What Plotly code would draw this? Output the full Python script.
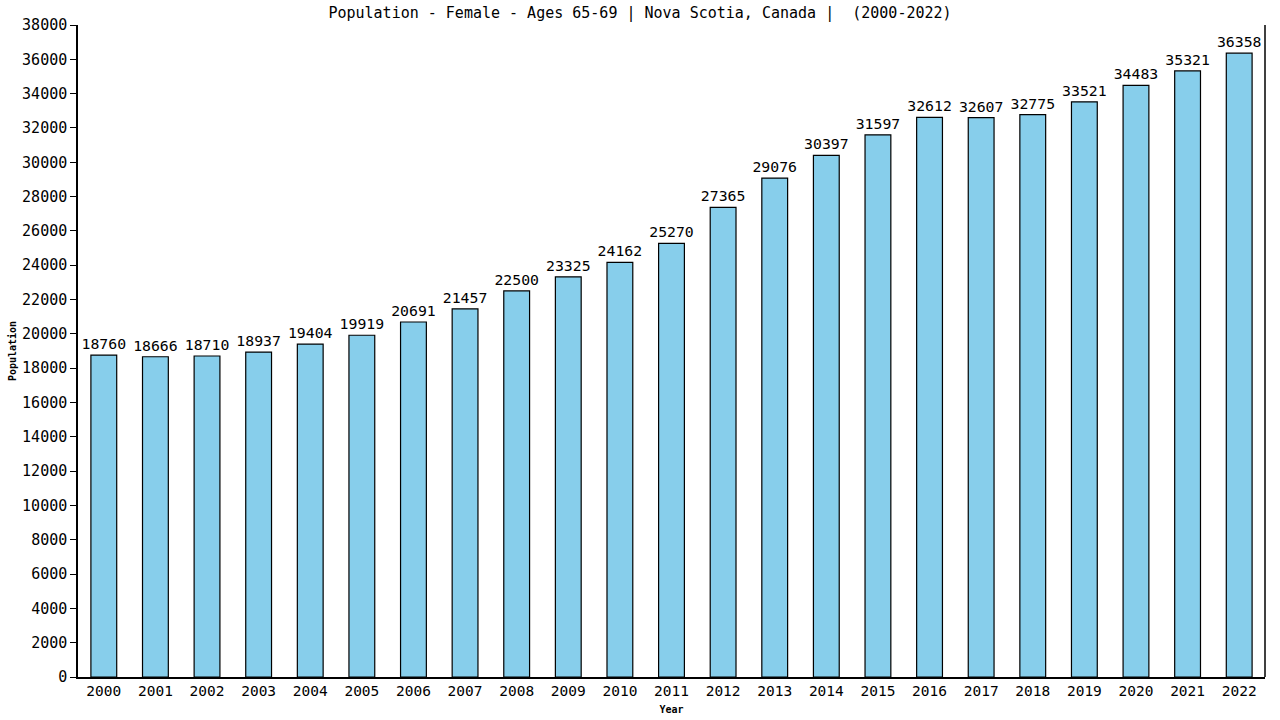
import plotly.graph_objects as go

years = [str(y) for y in range(2000, 2023)]
population = [18760, 18666, 18710, 18937, 19404, 19919, 20691, 21457, 22500, 23325,
              24162, 25270, 27365, 29076, 30397, 31597, 32612, 32607, 32775, 33521,
              34483, 35321, 36358]
y_ticks = list(range(0, 38001, 2000))

mono = "DejaVu Sans Mono"

fig = go.Figure()
fig.add_trace(
    go.Bar(
        x=years,
        y=population,
        width=0.5,
        marker=dict(color="#87ceeb", line=dict(color="black", width=1.2)),
        text=population,
        texttemplate="%{text}",
        textposition="outside",
        textfont=dict(family=mono, size=14.8, color="black"),
        cliponaxis=False,
    )
)

fig.update_layout(
    title=dict(
        text="Population - Female - Ages 65-69 | Nova Scotia, Canada |  (2000-2022)",
        x=0.5, xanchor="center", yref="container", y=1 - 13 / 720, yanchor="middle",
        font=dict(family=mono, size=15, color="black"),
    ),
    width=1280,
    height=720,
    margin=dict(l=78, r=15, t=25, b=43),
    plot_bgcolor="white",
    paper_bgcolor="white",
    showlegend=False,
    font=dict(family=mono, color="black"),
    uniformtext=dict(mode="show", minsize=14),
)

fig.update_xaxes(
    title=dict(text="<b>Year</b>", font=dict(family=mono, size=10), standoff=8),
    showline=True, linecolor="black", linewidth=1.5,
    ticks="", tickfont=dict(family=mono, size=14.5),
    showgrid=False, automargin=False,
)
fig.update_yaxes(
    title=dict(text="<b>Population</b>", font=dict(family=mono, size=10), standoff=4),
    range=[0, 38000], tickvals=y_ticks, tickformat="d",
    showline=True, linecolor="black", linewidth=1.5,
    ticks="outside", ticklen=6, tickcolor="black",
    tickfont=dict(family=mono, size=15),
    showgrid=False, zeroline=False, automargin=False,
)

fig.add_shape(type="line", xref="paper", yref="paper", x0=1, x1=1, y0=0, y1=1,
              line=dict(color="black", width=1.5))

# drop the default page margin so the figure sits at the window's corner
fig.write_html(
    "out.html",
    config={"displayModeBar": False},
    post_script="document.body.style.margin = '0';",
)
